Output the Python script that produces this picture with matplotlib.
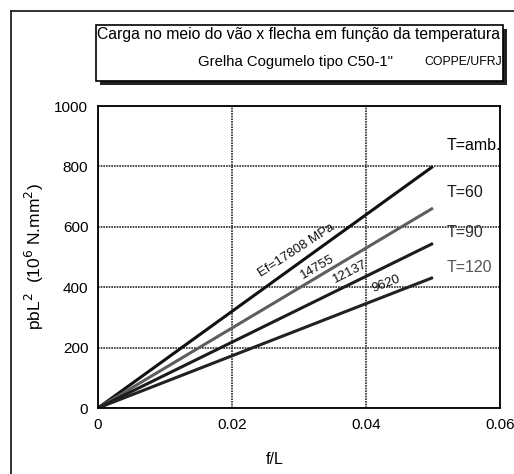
import matplotlib
matplotlib.use("Agg")
import matplotlib.pyplot as plt
import matplotlib.patches as mpatches
from matplotlib.lines import Line2D

plt.rcParams['font.family'] = ['Liberation Sans', 'DejaVu Sans']

# -- data -- #
f_L = [0.0, 0.05]
carga_amb = [0, 800]
carga_60 = [0, 662]
carga_90 = [0, 545]
carga_120 = [0, 432]

modulos = ["Ef=17808 MPa", "14755", "12137", "9620"]
temperaturas = ["T=amb.", "T=60", "T=90", "T=120"]

series = [carga_amb, carga_60, carga_90, carga_120]
line_colors = ["#111111", "#5e5e5e", "#1c1c1c", "#222222"]
temp_colors = ["#000000", "#1a1a1a", "#303030", "#555555"]

W, H = 514, 474
fig = plt.figure(figsize=(W / 100, H / 100), dpi=100)

ax = fig.add_axes([98 / W, 1 - 408 / H, 402 / W, 302 / H])
ax.set_xlim(0, 0.06)
ax.set_ylim(0, 1000)

for ys, c in zip(series, line_colors):
    ax.plot(f_L, ys, color=c, lw=2.2, solid_capstyle='butt')

ax.set_xticks([0, 0.02, 0.04, 0.06])
ax.set_xticklabels(["0", "0.02", "0.04", "0.06"])
ax.set_yticks([0, 200, 400, 600, 800, 1000])
ax.tick_params(length=0, labelsize=11, pad=7)
ax.grid(True, ls=(0, (1.0, 0.6)), color="#2a2a2a", lw=1.2)
for s in ax.spines.values():
    s.set_linewidth(1.3)

ax.set_xlabel("f/L", fontsize=11.5)
ax.xaxis.set_label_coords(0.44, -0.145)
ax.set_ylabel(r"pbL$^2$  (10$^6$ N.mm$^2$)", fontsize=12.5, labelpad=6)

# line labels (modulus)
lab_pos = [(0.0296, 521, 33), (0.0327, 467, 30), (0.0376, 451, 27), (0.0430, 410, 21)]
for txt, (x, y, r) in zip(modulos, lab_pos):
    ax.text(x, y, txt, rotation=r, ha='center', va='center', fontsize=9.5,
            rotation_mode='anchor', color="#111111")

# temperature labels
temp_y = [868, 713, 581, 465]
for txt, y, c in zip(temperaturas, temp_y, temp_colors):
    ax.text(0.0521, y, txt, ha='left', va='center', fontsize=11.5, color=c,
            clip_on=False)

# title box with shadow
x0, y0, x1, y1 = 96, 25, 503, 81
fig.patches.append(mpatches.Rectangle(((x0 + 4) / W, 1 - (y1 + 4) / H), (x1 - x0) / W,
                                      (y1 - y0) / H, transform=fig.transFigure,
                                      facecolor="#222222", edgecolor="none", zorder=1))
fig.patches.append(mpatches.Rectangle((x0 / W, 1 - y1 / H), (x1 - x0) / W,
                                      (y1 - y0) / H, transform=fig.transFigure,
                                      facecolor="white", edgecolor="black", lw=1.2, zorder=2))
fig.text(97 / W, 1 - 35 / H, "Carga no meio do vão x flecha em função da temperatura",
         ha='left', va='center', fontsize=11.3, zorder=3)
fig.text(198 / W, 1 - 62 / H, 'Grelha Cogumelo tipo C50-1"',
         ha='left', va='center', fontsize=10.7, zorder=3)
fig.text(502 / W, 1 - 62 / H, "COPPE/UFRJ",
         ha='right', va='center', fontsize=8.8, zorder=3)

# outer frame
fig.add_artist(Line2D([11 / W, 11 / W], [0, 1 - 11 / H], transform=fig.transFigure,
                      color="#222222", lw=1.3))
fig.add_artist(Line2D([11 / W, 1], [1 - 11 / H, 1 - 11 / H], transform=fig.transFigure,
                      color="#222222", lw=1.3))

fig.savefig("out.png", dpi=100)
